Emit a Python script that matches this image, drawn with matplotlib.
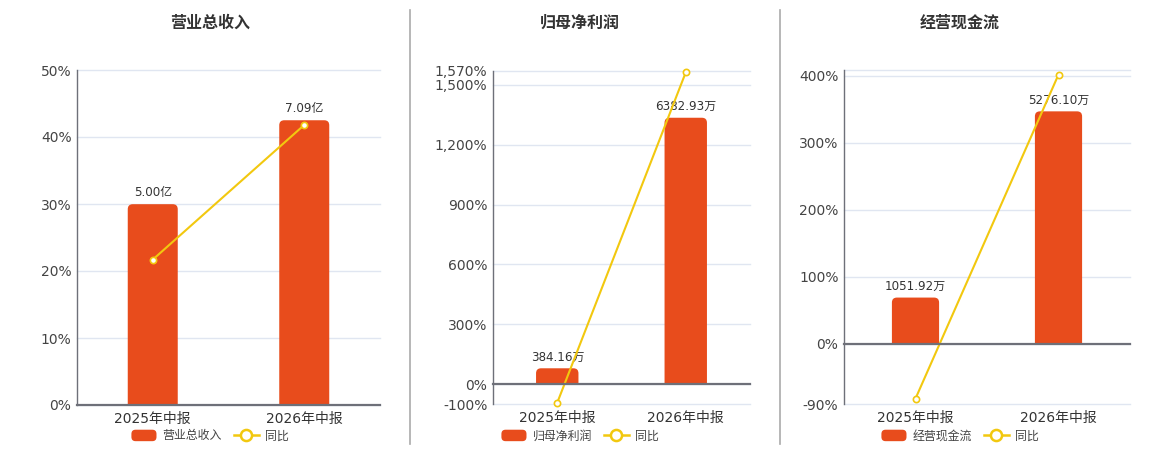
import matplotlib
matplotlib.use("Agg")
import matplotlib.pyplot as plt
from matplotlib.patches import FancyBboxPatch, Rectangle, Patch
from matplotlib.lines import Line2D
from matplotlib.legend_handler import HandlerPatch

plt.rcParams['font.family'] = ['DejaVu Sans', 'Noto Sans CJK SC']

# ============================
# DATA
# ============================
periods = ["2025年中报", "2026年中报"]

revenue = [5.00, 7.09]
revenue_labels = ["5.00亿", "7.09亿"]
revenue_yoy = [21.7, 41.8]

profit = [384.16, 6382.93]
profit_labels = ["384.16万", "6382.93万"]
profit_yoy = [-92.0, 1561.5]

cashflow = [1051.92, 5276.10]
cashflow_labels = ["1051.92万", "5276.10万"]
cashflow_yoy = [-81.5, 401.6]

# ============================
# STYLE
# ============================
W, H = 1160, 450
BAR_COLOR = "#E84C1C"
LINE_COLOR = "#F2C80F"
AXIS_COLOR = "#6E7079"
GRID_COLOR = "#E0E6F1"
TEXT_COLOR = "#333333"

fig = plt.figure(figsize=(W / 100, H / 100), dpi=100)


class RoundedPatchHandler(HandlerPatch):
    # legend swatch with rounded corners
    def create_artists(self, legend, orig_handle, xdescent, ydescent,
                       width, height, fontsize, trans):
        p = FancyBboxPatch((-xdescent, -ydescent), width, height,
                           boxstyle="round,pad=0,rounding_size=3",
                           facecolor=orig_handle.get_facecolor(),
                           edgecolor="none", transform=trans)
        return [p]


def px_rect(x0, y0, x1, y1):
    # pixel box (top-left origin) -> figure fraction rect
    return [x0 / W, 1 - y1 / H, (x1 - x0) / W, (y1 - y0) / H]


def draw_panel(box, title, name, values, labels, yoy, ylim, yticks, ytick_labels, center_x):
    ax = fig.add_axes(px_rect(*box))
    axb = ax.twinx()
    axl = ax.twinx()

    lo, hi = ylim
    ax.set_xlim(-0.5, 1.5)
    ax.set_ylim(lo, hi)
    axl.set_ylim(lo, hi)
    bar_top = max(values) / 0.85
    axb.set_ylim(bar_top * lo / hi, bar_top)

    # percent axis + grid
    ax.set_yticks(yticks, ytick_labels)
    ax.tick_params(axis="y", length=0, pad=4, labelsize=10, labelcolor="#444444")
    ax.grid(axis="y", color=GRID_COLOR, linewidth=1)
    for gl in ax.get_ygridlines():
        gl.set_clip_on(False)
    ax.set_axisbelow(True)
    for s in ["top", "right", "bottom"]:
        ax.spines[s].set_visible(False)
    ax.spines["left"].set_color(AXIS_COLOR)
    ax.spines["left"].set_linewidth(1)

    axb.set_yticks([])
    for s in axb.spines.values():
        s.set_visible(False)

    # zero line with category boundary ticks
    axl.set_yticks([])
    for s in ["top", "right", "left"]:
        axl.spines[s].set_visible(False)
    axl.spines["bottom"].set_position(("data", 0))
    axl.spines["bottom"].set_color(AXIS_COLOR)
    axl.spines["bottom"].set_linewidth(1.6)
    ax.set_xticks([-0.5, 0.5, 1.5], ["", "", ""])
    axl.tick_params(axis="x", length=5, width=1, color=AXIS_COLOR, direction="out")
    ax.tick_params(axis="x", length=0)
    axb.tick_params(axis="x", length=0)

    # rounded-top bars
    fig.canvas.draw()
    bb = axb.get_window_extent()
    bw = 0.33
    r_px = 5
    rx = r_px * 2.0 / bb.width
    ylo, yhi = axb.get_ylim()
    ry = r_px * (yhi - ylo) / bb.height
    for i, v in enumerate(values):
        x0 = i - bw / 2
        patch = FancyBboxPatch((x0, -2 * ry), bw, v + 2 * ry,
                               boxstyle=f"round,pad=0,rounding_size={rx}",
                               mutation_aspect=ry / rx,
                               facecolor=BAR_COLOR, edgecolor="none")
        axb.add_patch(patch)
        clip = Rectangle((x0 - 0.1, 0), bw + 0.2, v * 2, transform=axb.transData)
        patch.set_clip_path(clip)
        axb.annotate(labels[i], (i, v), xytext=(0, 3.5), textcoords="offset points",
                     ha="center", va="bottom", fontsize=8.6, color=TEXT_COLOR)

    # yoy line
    axl.plot(range(len(yoy)), yoy, color=LINE_COLOR, linewidth=1.5,
             marker="o", markersize=4.5, markerfacecolor="white",
             markeredgecolor=LINE_COLOR, markeredgewidth=1.2, clip_on=False)

    # category labels at the bottom of the plot
    for i, p in enumerate(periods):
        ax.annotate(p, (i, 0), xycoords=ax.get_xaxis_transform(),
                    xytext=(0, -5), textcoords="offset points",
                    ha="center", va="top", fontsize=10, color=TEXT_COLOR)

    fig.text(center_x / W, 1 - 23 / H, title, ha="center", va="center",
             fontsize=11.5, fontweight="bold", color=TEXT_COLOR)

    bar_handle = Patch(facecolor=BAR_COLOR, edgecolor="none")
    line_handle = Line2D([0], [0], color=LINE_COLOR, linewidth=1.8, marker="o",
                         markersize=8, markerfacecolor="white",
                         markeredgecolor=LINE_COLOR, markeredgewidth=1.8)
    fig.legend([bar_handle, line_handle], [name, "同比"], loc="center",
               bbox_to_anchor=(center_x / W, 1 - 436 / H), ncol=2, frameon=False,
               fontsize=8.6, handlelength=2.1, handleheight=1.1,
               handletextpad=0.5, columnspacing=1.0, labelcolor="#444444",
               handler_map={Patch: RoundedPatchHandler()})


draw_panel((77, 70, 380, 405), "营业总收入", "营业总收入", revenue, revenue_labels,
           revenue_yoy, (0, 50), [0, 10, 20, 30, 40, 50],
           ["0%", "10%", "20%", "30%", "40%", "50%"], 210)

draw_panel((493, 70.7, 750, 404.3), "归母净利润", "归母净利润", profit, profit_labels,
           profit_yoy, (-100, 1570), [-100, 0, 300, 600, 900, 1200, 1500, 1570],
           ["-100%", "0%", "300%", "600%", "900%", "1,200%", "1,500%", "1,570%"], 580)

draw_panel((844, 70.3, 1130, 404.3), "经营现金流", "经营现金流", cashflow, cashflow_labels,
           cashflow_yoy, (-90, 408), [-90, 0, 100, 200, 300, 400, 408],
           ["-90%", "0%", "100%", "200%", "300%", "400%", ""], 960)

# panel separators
for x in [410, 780]:
    fig.add_artist(Line2D([x / W, x / W], [1 - 10 / H, 1 - 444 / H],
                          color="#AAAAAA", linewidth=1.2))

fig.savefig("out.png", dpi=100, facecolor="white")
